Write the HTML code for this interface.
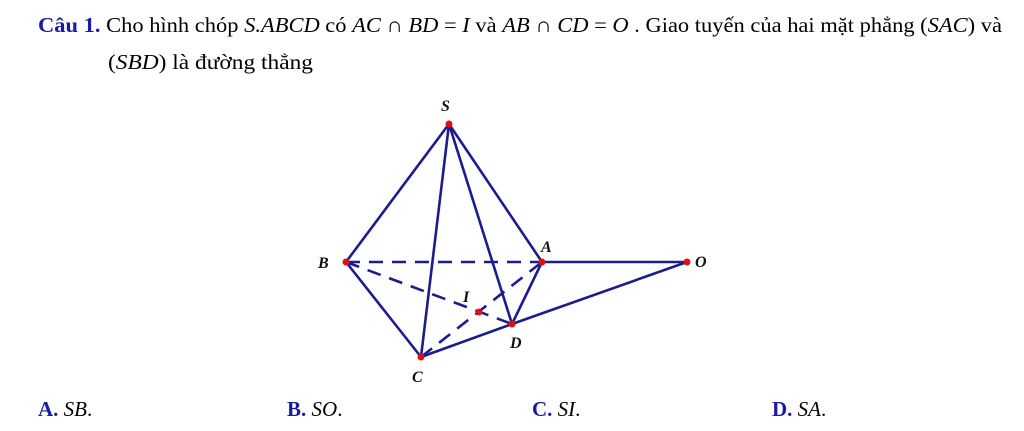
<!DOCTYPE html>
<html><head><meta charset="utf-8"><style>
html,body{margin:0;padding:0;background:#fff;width:1024px;height:431px;overflow:hidden}
</style></head><body>
<svg width="1024" height="431" xmlns="http://www.w3.org/2000/svg" font-family="Liberation Serif, serif">
<text x="38" y="32" font-size="21" textLength="964" lengthAdjust="spacingAndGlyphs"><tspan fill="#1a1aa8" font-weight="bold">Câu 1.</tspan> Cho hình chóp <tspan font-style="italic">S.ABCD</tspan> có <tspan font-style="italic">AC</tspan> ∩ <tspan font-style="italic">BD</tspan> = <tspan font-style="italic">I</tspan> và <tspan font-style="italic">AB</tspan> ∩ <tspan font-style="italic">CD</tspan> = <tspan font-style="italic">O</tspan> . Giao tuyến của hai mặt phẳng (<tspan font-style="italic">SAC</tspan>) và</text>
<text x="108" y="69" font-size="21" textLength="205" lengthAdjust="spacingAndGlyphs">(<tspan font-style="italic">SBD</tspan>) là đường thẳng</text>
<g stroke="#1c1c8c" stroke-width="2.6" fill="none" stroke-linecap="round">
<line x1="449" y1="124" x2="346" y2="262"/>
<line x1="449" y1="124" x2="421" y2="357"/>
<line x1="449" y1="124" x2="512" y2="324"/>
<line x1="449" y1="124" x2="542" y2="262"/>
<line x1="346" y1="262" x2="421" y2="357"/>
<line x1="421" y1="357" x2="512" y2="324"/>
<line x1="512" y1="324" x2="542" y2="262"/>
<line x1="542" y1="262" x2="687" y2="262"/>
<line x1="512" y1="324" x2="687" y2="262"/>
<g stroke-dasharray="14,9" stroke-linecap="butt">
<line x1="346" y1="262" x2="542" y2="262"/>
<line x1="346" y1="262" x2="512" y2="324"/>
<line x1="421" y1="357" x2="542" y2="262"/>
</g>
</g>
<g fill="#e01010">
<circle cx="449" cy="124" r="3.5"/><circle cx="346" cy="262" r="3.5"/><circle cx="542" cy="262" r="3.5"/>
<circle cx="687" cy="262" r="3.5"/><circle cx="421" cy="357" r="3.5"/><circle cx="512" cy="324" r="3.5"/>
<circle cx="479" cy="312" r="3.5"/>
</g>
<g font-size="16" font-style="italic" font-weight="bold" fill="#111">
<text x="441" y="111">S</text><text x="318" y="268">B</text><text x="541" y="252">A</text>
<text x="695" y="267">O</text><text x="463" y="302">I</text><text x="510" y="348">D</text><text x="412" y="382">C</text>
</g>
<g font-size="21">
<text x="38" y="416"><tspan fill="#1a1aa8" font-weight="bold">A.</tspan> <tspan font-style="italic">SB</tspan>.</text>
<text x="287" y="416"><tspan fill="#1a1aa8" font-weight="bold">B.</tspan> <tspan font-style="italic">SO</tspan>.</text>
<text x="532" y="416"><tspan fill="#1a1aa8" font-weight="bold">C.</tspan> <tspan font-style="italic">SI</tspan>.</text>
<text x="772" y="416"><tspan fill="#1a1aa8" font-weight="bold">D.</tspan> <tspan font-style="italic">SA</tspan>.</text>
</g>
</svg>
</body></html>
